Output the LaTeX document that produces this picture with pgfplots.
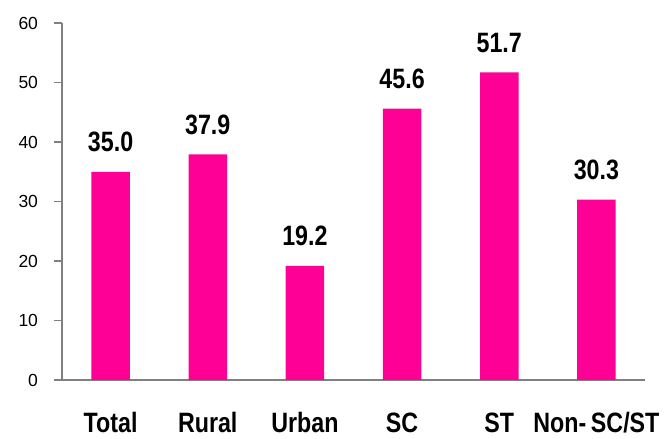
\documentclass[border=0pt]{standalone}
\usepackage{fontspec}
\setmainfont{Liberation Sans}
\newfontfamily\narrowbold[FakeStretch=0.83]{Liberation Sans Bold}
\usepackage{pgfplots}
\pgfplotsset{compat=1.18}
\definecolor{barpink}{RGB}{255,0,150}
\definecolor{axgray}{RGB}{128,128,128}

\begin{document}
\begin{tikzpicture}
\begin{axis}[
    name=ax,
    scale only axis,
    width=583pt, height=357pt,
    xmin=-0.5, xmax=5.5,
    ymin=0, ymax=60,
    ytick={0,10,...,60},
    xtick=data,
    xticklabels={Total,Rural,Urban,SC,ST,Non-\,SC/ST},
    x tick label style={font=\narrowbold\fontsize{28}{31}\selectfont, anchor=base, yshift=-45pt},
    y tick label style={font=\fontsize{17.5}{20}\selectfont, xshift=-12.5pt,
        /pgf/number format/precision=0},
    /pgf/number format/assume math mode=true,
    axis x line*=bottom,
    axis y line*=left,
    axis line style={axgray, line width=1.5pt, -},
    x axis line style={shorten <=-8pt},
    tick align=outside,
    major tick length=8pt,
    ytick pos=left,
    x tick style={draw=none},
    y tick style={draw=axgray, line width=1.5pt},
    nodes near coords,
    nodes near coords style={font=\narrowbold\fontsize{28}{31}\selectfont, text=black,
        /pgf/number format/fixed zerofill, /pgf/number format/precision=1},
    every node near coord/.append style={anchor=base, yshift=20pt},
    /pgf/number format/fixed,
]
\addplot[ybar, bar width=38.5pt, fill=barpink, draw=none] coordinates {
    (0,35.0) (1,37.9) (2,19.2) (3,45.6) (4,51.7) (5,30.3)
};
\end{axis}
\path (ax.south west) ++(-62pt,-59pt) rectangle ++(670pt,439pt);
\end{tikzpicture}
\end{document}
